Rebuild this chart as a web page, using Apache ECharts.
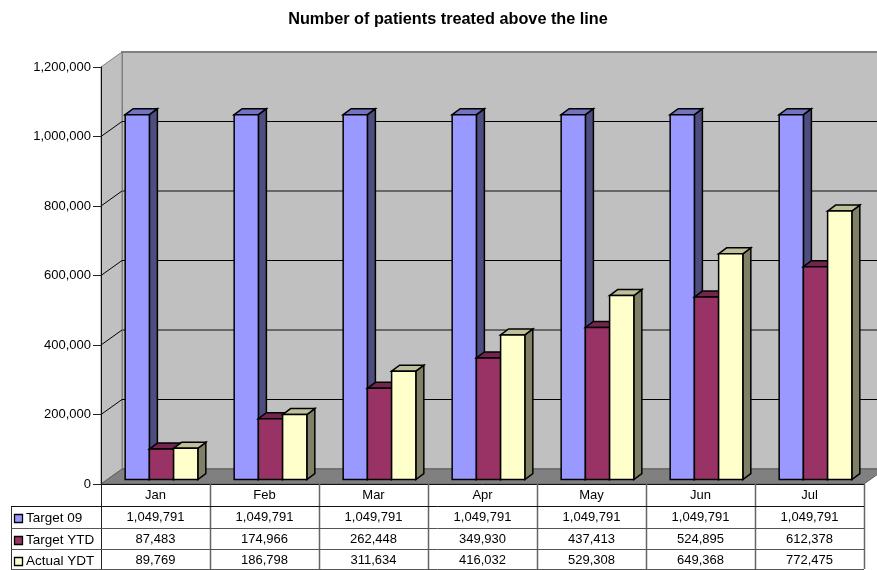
<!DOCTYPE html>
<html>
<head>
<meta charset="utf-8">
<style>html,body{margin:0;padding:0;background:#fff}#c{width:877px;height:570px}</style>
<script src="https://cdn.jsdelivr.net/npm/echarts@6/dist/echarts.min.js"></script>
</head>
<body>
<div id="c"></div>
<script>
const months = ['Jan', 'Feb', 'Mar', 'Apr', 'May', 'Jun', 'Jul'];
const target09 = [1049791, 1049791, 1049791, 1049791, 1049791, 1049791, 1049791];
const targetYtd = [87483, 174966, 262448, 349930, 437413, 524895, 612378];
const actualYdt = [89769, 186798, 311634, 416032, 529308, 649368, 772475];
const gridTicks = [0, 200000, 400000, 600000, 800000, 1000000, 1200000];

const seriesNames = ['Target 09', 'Target YTD', 'Actual YDT'];
const seriesValues = [target09, targetYtd, actualYdt];
const faceColors = [
  { front: '#9999FF', side: '#4D4D80', top: '#7373BF' },
  { front: '#993366', side: '#4D1A33', top: '#73264D' },
  { front: '#FFFFCC', side: '#808066', top: '#BFBF99' }
];

const FONT = '"Liberation Sans", Arial, sans-serif';
const GRID = { left: 101, top: 67, width: 763, height: 417 };
const WALL_DX = 21, WALL_DY = -15;   // depth of the chart box
const BAR_DX = 6, BAR_DY = -4.5;     // bars stand in the middle of the floor
const BAR_DEPTH_X = 8, BAR_DEPTH_Y = -6;
const fmt = v => v.toLocaleString('en-US');

function poly(points, fill, stroke, lineWidth) {
  return { type: 'polygon', shape: { points }, style: { fill, stroke, lineWidth: lineWidth || 0 } };
}

// Back wall, side wall and floor of the box
function renderWalls(params) {
  const c = params.coordSys;
  const L = c.x, R = c.x + c.width, T = c.y, B = c.y + c.height;
  return {
    type: 'group',
    children: [
      poly([[L + WALL_DX, T + WALL_DY], [R + WALL_DX, T + WALL_DY], [R + WALL_DX, B + WALL_DY], [L + WALL_DX, B + WALL_DY]], '#C0C0C0', '#808080', 2),
      poly([[L, T], [L + WALL_DX, T + WALL_DY], [L + WALL_DX, B + WALL_DY], [L, B]], '#C0C0C0', '#808080', 1),
      poly([[L, B], [L + WALL_DX, B + WALL_DY], [R + WALL_DX, B + WALL_DY], [R, B]], '#808080', '#606060', 1)
    ]
  };
}

// One gridline across the side wall and the back wall
function renderGridline(params, api) {
  const c = params.coordSys;
  const y = api.coord([0, api.value(0)])[1];
  const level = params.dataIndex;
  if (level === 0 || level === gridTicks.length - 1) {
    return { type: 'group', children: [] };
  }
  const heavy = level % 2 === 0;
  const backY = heavy ? y + WALL_DY : Math.floor(y + WALL_DY) + 0.5;
  return {
    type: 'group',
    children: [
      { type: 'line', shape: { x1: c.x, y1: y, x2: c.x + WALL_DX, y2: backY }, style: { stroke: '#000', lineWidth: 1 } },
      { type: 'line', shape: { x1: c.x + WALL_DX, y1: backY, x2: c.x + c.width + WALL_DX, y2: backY }, style: { stroke: heavy ? '#666' : '#000', lineWidth: heavy ? 2 : 1 } }
    ]
  };
}

// A box-shaped column: side and top faces first, front face last
function makeBarRenderer(idx) {
  return function (params, api) {
    const cat = api.value(0);
    const base = api.coord([cat, 0]);
    const top = api.coord([cat, api.value(1)]);
    const w = api.size([1, 0])[0] / 4.5;
    const x0 = base[0] - 1.5 * w + idx * w + BAR_DX;
    const x1 = x0 + w;
    const yB = base[1] + BAR_DY;
    const yT = top[1] + BAR_DY;
    const col = faceColors[idx];
    const dx = BAR_DEPTH_X, dy = BAR_DEPTH_Y;
    return {
      type: 'group',
      children: [
        poly([[x1, yT], [x1 + dx, yT + dy], [x1 + dx, yB + dy], [x1, yB]], col.side, '#000', 1.5),
        poly([[x0, yT], [x0 + dx, yT + dy], [x1 + dx, yT + dy], [x1, yT]], col.top, '#000', 1.5),
        poly([[x0, yT], [x1, yT], [x1, yB], [x0, yB]], col.front, '#000', 1.5)
      ]
    };
  };
}

// Data table under the plot
const TABLE_LEFT = 11;
const rowLines = [506, 528, 549, 569];
const valueCentres = [517.5, 539, 560];
const nameCentres = [518.5, 540, 561.5];
const swatchTops = [514, 536, 557];
const SWATCH = 8;

function tableGraphics() {
  const out = [];
  const band = GRID.width / months.length;
  const hLine = (x1, x2, y, stroke) => ({ type: 'line', z: 20, shape: { x1, y1: y + 0.5, x2, y2: y + 0.5 }, style: { stroke, lineWidth: 1 } });
  const vLine = (x, y1, y2, stroke, lineWidth) => ({ type: 'line', z: 20, shape: { x1: x + 0.5, y1, x2: x + 0.5, y2 }, style: { stroke, lineWidth: lineWidth || 1 } });
  const right = GRID.left + GRID.width;

  out.push(vLine(GRID.left, 484, 569, '#222'));
  for (let i = 1; i <= months.length; i++) {
    out.push(vLine(GRID.left + i * band, 484, 569, '#666', 1.5));
  }
  out.push(vLine(TABLE_LEFT, 506, 569, '#333'));
  rowLines.forEach((y, i) => out.push(hLine(TABLE_LEFT, right, y, i === 0 ? '#111' : '#555')));

  seriesNames.forEach((name, r) => {
    out.push({
      type: 'rect', z: 21,
      shape: { x: 14.5, y: swatchTops[r] + 0.5, width: SWATCH, height: SWATCH },
      style: { fill: faceColors[r].front, stroke: '#000', lineWidth: 1.3 }
    });
    out.push({
      type: 'text', z: 21, x: 26, y: nameCentres[r],
      style: { text: name, font: '13.5px ' + FONT, fill: '#000', textAlign: 'left', textVerticalAlign: 'middle' }
    });
    seriesValues[r].forEach((v, c) => {
      out.push({
        type: 'text', z: 21, x: GRID.left + (c + 0.5) * band, y: valueCentres[r],
        style: { text: fmt(v), font: '13px ' + FONT, fill: '#000', textAlign: 'center', textVerticalAlign: 'middle' }
      });
    });
  });
  return out;
}

const chart = echarts.init(document.getElementById('c'), null, { renderer: 'canvas' });
const barSeries = seriesNames.map((name, i) => ({
  type: 'custom',
  name,
  z: 4,
  clip: false,
  silent: true,
  renderItem: makeBarRenderer(i),
  data: months.map((m, j) => [j, seriesValues[i][j]]),
  encode: { x: 0, y: 1 }
}));

chart.setOption({
  animation: false,
  backgroundColor: '#fff',
  title: {
    text: 'Number of patients treated above the line',
    left: 443, top: 7, textAlign: 'center',
    textStyle: { fontFamily: FONT, fontSize: 16.25, fontWeight: 'bold', color: '#000' }
  },
  grid: { left: GRID.left, top: GRID.top, width: GRID.width, height: GRID.height },
  xAxis: {
    type: 'category',
    data: months,
    z: 10,
    axisLine: { lineStyle: { color: '#111', width: 1 } },
    axisTick: { show: false },
    axisLabel: { color: '#000', fontFamily: FONT, fontSize: 13, margin: 5 },
    splitLine: { show: false }
  },
  yAxis: {
    type: 'value',
    min: 0, max: 1200000, interval: 200000,
    z: 10,
    axisLine: { show: true, lineStyle: { color: '#111', width: 1 } },
    axisTick: { show: true, length: 8, lineStyle: { color: '#222', width: 1 } },
    axisLabel: { color: '#000', fontFamily: FONT, fontSize: 13, margin: 10, formatter: v => fmt(v) },
    splitLine: { show: false }
  },
  series: [
    { type: 'custom', z: 1, clip: false, silent: true, renderItem: renderWalls, data: [[0, 0]], encode: { x: 0, y: 1 } },
    { type: 'custom', z: 2, clip: false, silent: true, renderItem: renderGridline, data: gridTicks.map(v => [v]), encode: { y: 0 } },
    ...barSeries
  ],
  graphic: { elements: tableGraphics() }
});
</script>
</body>
</html>
